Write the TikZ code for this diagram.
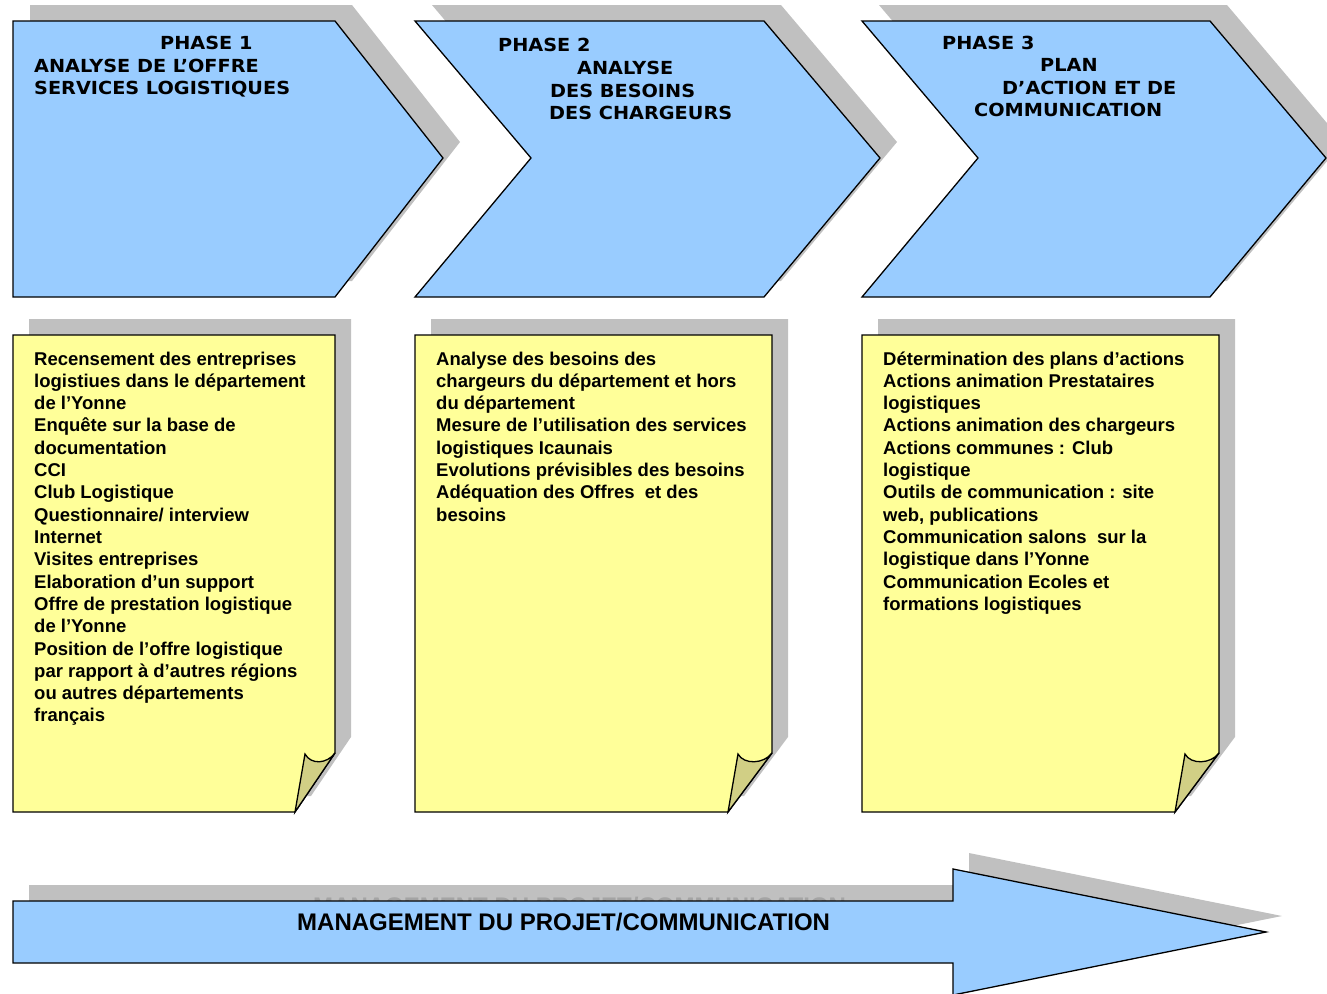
\documentclass[tikz,border=0pt]{standalone}
\usepackage{fontspec}
\setmainfont{Liberation Sans}
\newfontfamily\phasefont[FakeStretch=1.07]{DejaVu Sans}
\definecolor{chevblue}{HTML}{99CCFF}
\definecolor{noteyellow}{HTML}{FFFF99}
\definecolor{foldkhaki}{HTML}{D1CF85}
\definecolor{shadegray}{HTML}{C0C0C0}
\definecolor{shadetext}{HTML}{A4A4A4}
\begin{document}
\begin{tikzpicture}[x=1pt,y=-1pt]
\tikzset{
base/.style={draw=black,line width=1.3pt,line join=miter},
chevron/.style={base,fill=chevblue},
shade/.style={fill=shadegray,draw=none},
note/.style={base,fill=noteyellow},
fold/.style={base,fill=foldkhaki},
txt/.style={anchor=base west,inner sep=0pt},
phasetxt/.style={txt,font=\phasefont\bfseries\fontsize{18}{22}\selectfont},
notetxt/.style={txt,font=\bfseries\fontsize{18.5}{22}\selectfont},
mgmt/.style={txt,font=\bfseries\fontsize{24}{28}\selectfont}}
\clip (0,0) rectangle (1327,993);
% phases
\foreach \l/\n/\r/\t in {13/0/335/108, 415/116/764/116, 862/116/1210/116} {
  \fill[shade,shift={(17,-16)}] (\l,21) -- (\r,21) -- (\r+\t,158) -- (\r,297) -- (\l,297) -- (\l+\n,158) -- cycle;
  \draw[chevron] (\l,21) -- (\r,21) -- (\r+\t,158) -- (\r,297) -- (\l,297) -- (\l+\n,158) -- cycle;
}
\node[phasetxt] (p1a) at (160,49.5) {PHASE 1};
\node[phasetxt] (p1b) at (34,72) {ANALYSE DE L’OFFRE};
\node[phasetxt] (p1c) at (34,94) {SERVICES LOGISTIQUES};
\node[phasetxt] (p2a) at (498,51.5) {PHASE 2};
\node[phasetxt] (p2b) at (577,74.5) {ANALYSE};
\node[phasetxt] (p2c) at (550,97) {DES BESOINS};
\node[phasetxt] (p2d) at (549,119.5) {DES CHARGEURS};
\node[phasetxt] (p3a) at (942,49.5) {PHASE 3};
\node[phasetxt] (p3b) at (1040,71.5) {PLAN};
\node[phasetxt] (p3c) at (1002,94) {D’ACTION ET DE};
\node[phasetxt] (p3d) at (974,116.5) {COMMUNICATION};
% notes
\foreach \l/\r/\f in {13/335/40, 415/772/44, 862/1219/44} {
  \fill[shade,shift={(16,-16)}] (\l,335) -- (\r,335) -- (\r,753) -- (\r-\f,812) -- (\l,812) -- cycle;
  \draw[note] (\l,335) -- (\r,335) -- (\r,753) -- (\r-\f,812) -- (\l,812) -- cycle;
  \draw[fold] (\r-\f,812) -- (\r-\f+10,754) .. controls (\r-\f+16,765) and (\r-8,764) .. (\r,753) -- cycle;
}
\foreach \s [count=\i] in {Recensement des entreprises, logistiues dans le département, de l’Yonne,
  Enquête sur la base de, documentation, CCI, Club Logistique, Questionnaire/ interview, Internet,
  Visites entreprises, Elaboration d’un support, Offre de prestation logistique, de l’Yonne,
  Position de l’offre logistique, par rapport à d’autres régions, ou autres départements, français}
  \node[notetxt] (n1-\i) at (34,365+22.31*\i-22.31) {\s};
\foreach \s [count=\i] in {Analyse des besoins des, chargeurs du département et hors, du département,
  Mesure de l’utilisation des services, logistiques Icaunais, Evolutions prévisibles des besoins,
  Adéquation des Offres\ \ et des, besoins}
  \node[notetxt] (n2-\i) at (436,365+22.31*\i-22.31) {\s};
\foreach \s [count=\i] in {Détermination des plans d’actions, Actions animation Prestataires, logistiques,
  Actions animation des chargeurs, Actions communes : Club, logistique, Outils de communication : site,
  {web, publications}, Communication salons\ \ sur la, logistique dans l’Yonne, Communication Ecoles et,
  formations logistiques}
  \node[notetxt] (n3-\i) at (883,365+22.31*\i-22.31) {\s};
% management arrow
\fill[shade,shift={(16,-16)}] (13,901) -- (953,901) -- (953,869) -- (1266,932) -- (953,995) -- (953,963) -- (13,963) -- cycle;
\node[mgmt,text=shadetext] (mshade) at (313,914) {MANAGEMENT DU PROJET/COMMUNICATION};
\draw[chevron] (13,901) -- (953,901) -- (953,869) -- (1266,932) -- (953,995) -- (953,963) -- (13,963) -- cycle;
\node[mgmt] (mlabel) at (297,930) {MANAGEMENT DU PROJET/COMMUNICATION};
\end{tikzpicture}
\end{document}
